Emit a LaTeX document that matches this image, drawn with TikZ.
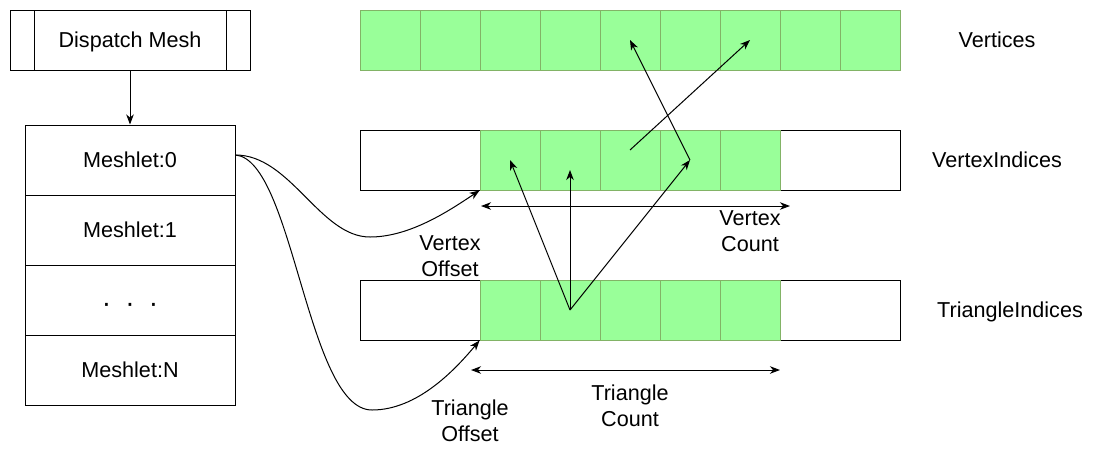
\documentclass[tikz,border=0pt]{standalone}
\usepackage{fontspec}
\setmainfont{Liberation Sans}
\usetikzlibrary{arrows.meta}

\definecolor{cellfill}{HTML}{99FF99}
\definecolor{cellline}{HTML}{82B366}

\tikzset{
  every node/.style={font=\fontsize{21.6pt}{25.5pt}\selectfont, inner sep=0pt},
  txt/.style={text depth=0pt},
  rowbox/.style={draw=black, fill=white, line width=1pt, minimum width=540pt, minimum height=60pt},
  cellbox/.style={draw=cellline, fill=cellfill, line width=1pt, minimum width=60pt, minimum height=60pt},
  meshbox/.style={draw=black, line width=1pt, minimum width=210pt, minimum height=70pt, text depth=0pt},
  arr/.style={line width=1pt, -{Stealth[length=10pt,width=7.5pt,inset=3pt]}},
  dblarr/.style={line width=1pt, {Stealth[length=10pt,width=7.5pt,inset=3pt]}-{Stealth[length=10pt,width=7.5pt,inset=3pt]}}
}

\begin{document}
\begin{tikzpicture}[x=1pt, y=-1pt]

  % Bounding box of the scheme
  \useasboundingbox (0,0) rectangle (1101,456);

  %%%%%%%%%%%%%%%%%%%%%%%%%%%%%%%%% Dispatch and meshlets %%%%%%%%%%%%%%%%%%%%%%%%%%%%%%%%%%%%
  \draw (130,40) node[draw=black, line width=1pt, minimum width=240pt, minimum height=60pt, txt] (dispatch) {Dispatch Mesh} ;
  \draw[line width=1pt] (34,10) -- (34,70) ;
  \draw[line width=1pt] (226,10) -- (226,70) ;

  \draw (130,160) node[meshbox] (m0) {Meshlet:0} ;
  \draw (130,230) node[meshbox] (m1) {Meshlet:1} ;
  \draw (130,300) node[meshbox, font=\fontsize{28pt}{28pt}\selectfont, text height=24pt] (m2) {·\hspace{14.2pt}·\hspace{14.2pt}·} ;
  \draw (130,370) node[meshbox] (m3) {Meshlet:N} ;

  \draw[arr] (dispatch.south) -- (m0.north) ;

  %%%%%%%%%%%%%%%%%%%%%%%%%%%%%%%%% Buffers %%%%%%%%%%%%%%%%%%%%%%%%%%%%%%%%%%%%
  \foreach \i in {1,...,9}
    \node[cellbox] (v\i) at (330+60*\i,40) {} ;

  \node[rowbox] (virow) at (630,160) {} ;
  \foreach \i in {1,...,5}
    \node[cellbox] (vi\i) at (450+60*\i,160) {} ;

  \node[rowbox] (tirow) at (630,310) {} ;
  \foreach \i in {1,...,5}
    \node[cellbox] (ti\i) at (450+60*\i,310) {} ;

  \draw (997,40) node[txt] (vname) {Vertices} ;
  \draw (997,160) node[txt] (viname) {VertexIndices} ;
  \draw (1010,310) node[txt] (tiname) {TriangleIndices} ;

  %%%%%%%%%%%%%%%%%%%%%%%%%%%%%%%%% Offsets and counts %%%%%%%%%%%%%%%%%%%%%%%%%%%%%%%%%%%%
  \coordinate (mout) at ([yshift=5pt]m0.east) ;
  \coordinate (vbend) at (370,237) ;
  \coordinate (tbend) at (372,410) ;

  \draw[arr] (mout) .. controls +(55,0) and +(-50,0) .. (vbend)
             .. controls +(40,0) and +(-30,20) .. (vi1.south west) ;
  \draw[arr] (mout) .. controls +(58,5) and +(-65,0) .. (tbend)
             .. controls +(45,0) and +(-25,30) .. (ti1.south west) ;

  \coordinate (vcl) at (481,206) ;
  \coordinate (vcr) at (790,206) ;
  \draw[dblarr] (vcl) -- (vcr) ;
  \coordinate (tcl) at (471,370) ;
  \coordinate (tcr) at (780,370) ;
  \draw[dblarr] (tcl) -- (tcr) ;

  \draw (450,256) node[align=center] (voff) {Vertex\\Offset} ;
  \draw (750,231) node[align=center] (vcount) {Vertex\\Count} ;
  \draw (470,421) node[align=center] (toff) {Triangle\\Offset} ;
  \draw (630,406) node[align=center] (tcount) {Triangle\\Count} ;

  %%%%%%%%%%%%%%%%%%%%%%%%%%%%%%%%% Indices %%%%%%%%%%%%%%%%%%%%%%%%%%%%%%%%%%%%
  \draw[arr] (ti2.center) -- (vi1.center) ;
  \draw[arr] (ti2.center) -- ([yshift=-10pt]vi2.center) ;
  \draw[arr] (ti2.center) -- (vi4.center) ;
  \draw[arr] (vi4.center) -- (v5.center) ;
  \draw[arr] ([yshift=10pt]vi3.center) -- (v7.center) ;

\end{tikzpicture}
\end{document}
